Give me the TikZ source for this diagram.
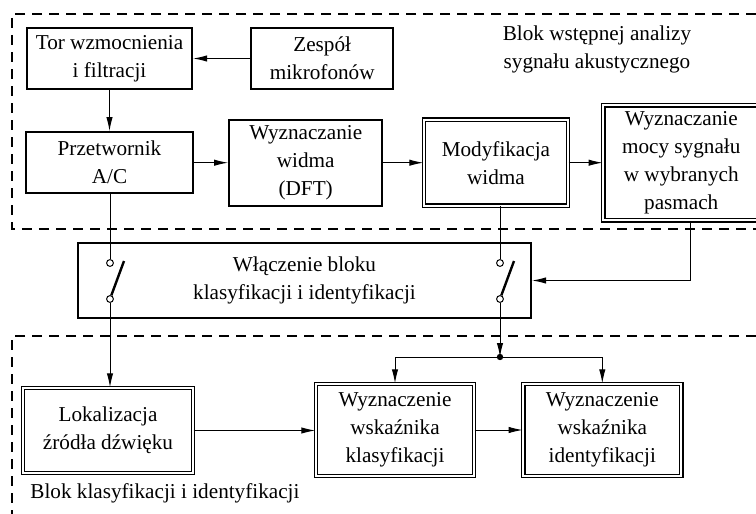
\documentclass[tikz,border=0pt]{standalone}
\usepackage{fontspec}
\setmainfont{Liberation Serif}
\usetikzlibrary{arrows.meta,positioning}

\begin{document}
\begin{tikzpicture}[
  x=0.5pt, y=-0.5pt,
  box/.style={draw, line width=1.1pt, align=center, inner sep=2pt,
              font=\fontsize{10.6}{14}\selectfont},
  dbox/.style={box, double, double distance=1.1pt, line width=0.65pt},
  lbl/.style={align=center, inner sep=2pt, font=\fontsize{10.6}{14}\selectfont},
  arr/.style={-{Latex[length=7pt,width=3.2pt]}, line width=0.5pt},
  ln/.style={line width=0.5pt},
  term/.style={circle, draw, fill=white, line width=0.5pt, inner sep=0pt,
               minimum size=3.4pt},
  blade/.style={line width=1.2pt},
  region/.style={dash pattern=on 5pt off 3.5pt, line width=0.6pt}]
  \useasboundingbox (0,0) rectangle (756,514);
  \draw[region] (756,14) -- (12,14) -- (12,229) -- (756,229);
  \draw[region] (756,336) -- (12,336) -- (12,514);
  \node[lbl] (tlab) at (597,49) {Blok wstępnej analizy\\sygnału akustycznego};
  \node[lbl, anchor=west] (blab) at (26,493) {Blok klasyfikacji i identyfikacji};

  \node[box, minimum width=82.5pt, minimum height=30.5pt] (tor) at (109.5,58.5)
    {Tor wzmocnienia\\i filtracji};
  \node[box, right=28.5pt of tor, minimum width=71pt, minimum height=30.5pt] (zesp)
    {Zespół\\mikrofonów};
  \node[box, below=20.5pt of tor, minimum width=83.5pt, minimum height=30.5pt] (prz)
    {Przetwornik\\A/C};
  \node[box, right=17pt of prz, minimum width=76.5pt, minimum height=43pt] (dft)
    {Wyznaczanie\\widma\\(DFT)};
  \node[dbox, right=20pt of dft, minimum width=72pt, minimum height=43pt] (mod)
    {Modyfikacja\\widma};
  \node[dbox, right=17pt of mod, minimum width=78pt, minimum height=57.5pt] (moc)
    {Wyznaczanie\\mocy sygnału\\w wybranych\\pasmach};
  \node[box, minimum width=226.5pt, minimum height=37.5pt] (wl) at (304.5,280.5)
    {Włączenie bloku\\klasyfikacji i identyfikacji};
  \node[dbox, minimum width=85pt, minimum height=42.5pt] (lok) at (108,430.5)
    {Lokalizacja\\źródła dźwięku};
  \node[dbox, minimum width=79pt, minimum height=46pt] (klas) at (395,430)
    {Wyznaczenie\\wskaźnika\\klasyfikacji};
  \node[dbox, right=24pt of klas, minimum width=79pt, minimum height=46pt] (ident)
    {Wyznaczenie\\wskaźnika\\identyfikacji};

  \node[term] (s1a) at (110,263) {};
  \node[term] (s1b) at (110,299) {};
  \coordinate (s1c) at (124,261);
  \node[term] (s2a) at (500,263) {};
  \node[term] (s2b) at (500,299) {};
  \coordinate (s2c) at (514,261);
  \coordinate (jn) at (500,357);
  \draw[blade] (s1b) -- (s1c);
  \draw[blade] (s2b) -- (s2c);

  \draw[arr] (zesp) -- (tor);
  \draw[arr] (tor.south) -- (tor.south |- prz.north);
  \draw[arr] (prz) -- (dft);
  \draw[arr] (dft) -- (mod);
  \draw[arr] (mod) -- (moc);
  \draw[ln] (s1a |- prz.south) -- (s1a);
  \draw[arr] (s1b) -- (s1b |- lok.north);
  \draw[ln] (s2a |- mod.south) -- (s2a);
  \draw[arr] ([xshift=4.5pt]moc.south) |- (wl);
  \draw[arr] (s2b) -- (jn);
  \fill (jn) circle (1.6pt);
  \draw[arr] (jn) -| (klas);
  \draw[arr] (jn) -| (ident);
  \draw[arr] (lok.east) -- (lok.east -| klas.west);
  \draw[arr] (klas) -- (ident);
\end{tikzpicture}
\end{document}
